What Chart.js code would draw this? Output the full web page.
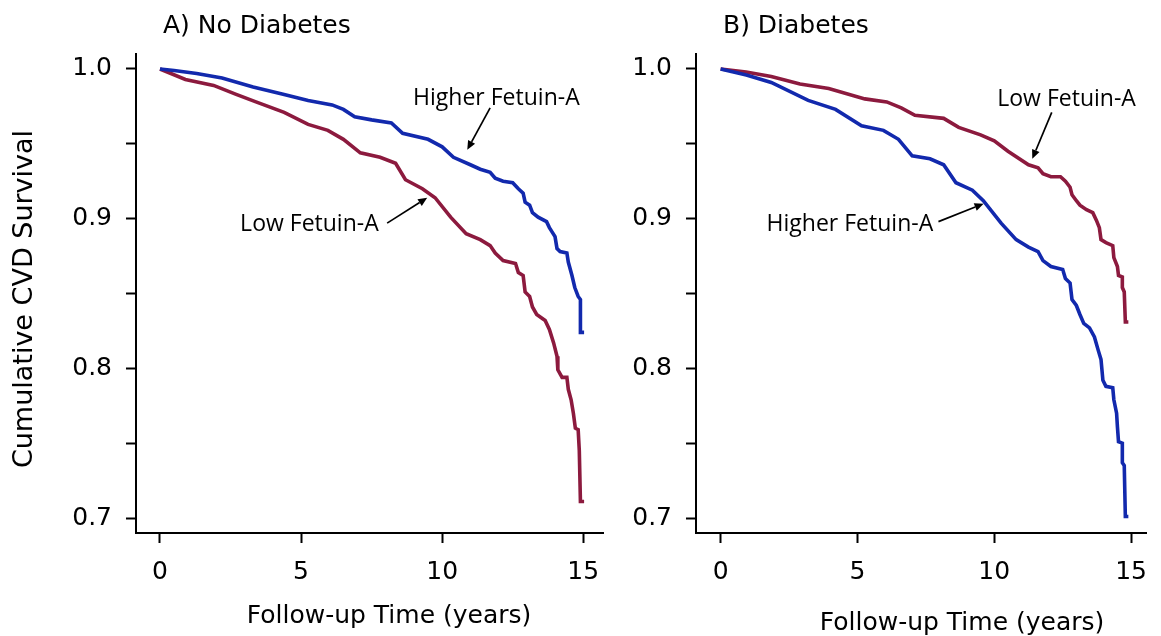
<!DOCTYPE html>
<html>
<head>
<meta charset="utf-8">
<title>Cumulative CVD Survival by Fetuin-A</title>
<script src="https://cdn.jsdelivr.net/npm/chart.js@4.4.1/dist/chart.umd.min.js"></script>
<style>
    body { margin: 0; background: #fff; }
    .wrap { position: relative; width: 1161px; height: 636px; }
    .wrap canvas { position: absolute; left: 0; top: 0; }
</style>
</head>
<body>
<div class="wrap">
    <canvas id="panelA" width="1161" height="636"></canvas>
    <canvas id="panelB" width="1161" height="636"></canvas>
</div>
<script>
// -------------------------------------------------------------------------- //
// DATA
// -------------------------------------------------------------------------- //

const xTickValues = [0, 5, 10, 15];
const xTickLabels = ['0', '5', '10', '15'];
const yTickValues = [0.7, 0.75, 0.8, 0.85, 0.9, 0.95, 1.0];
const yTickLabels = ['0.7', '', '0.8', '', '0.9', '', '1.0'];

// A) No Diabetes
const noDiabHigherTime = [0, 0.5, 1.3, 2.2, 3.3, 4.4, 5.25, 6.1, 6.5, 6.9, 7.5, 8.2, 8.6, 9.5, 10.0, 10.4, 11.0,
    11.35, 11.7, 11.88, 12.16, 12.5, 12.7, 12.87, 12.94, 13.1, 13.2, 13.4, 13.7, 13.8, 14.0, 14.07, 14.18,
    14.42, 14.47, 14.6, 14.7, 14.82, 14.9, 14.9, 15.03];
const noDiabHigherSurv = [1.0, 0.999, 0.997, 0.994, 0.988, 0.983, 0.979, 0.976, 0.973, 0.968, 0.966, 0.964, 0.957, 0.953, 0.948, 0.941, 0.936,
    0.933, 0.931, 0.927, 0.925, 0.924, 0.920, 0.917, 0.911, 0.909, 0.904, 0.901, 0.898, 0.894, 0.888, 0.880, 0.878,
    0.877, 0.871, 0.862, 0.854, 0.848, 0.846, 0.824, 0.824];

const noDiabLowTime = [0, 0.9, 1.9, 2.7, 3.4, 4.4, 5.25, 5.95, 6.5, 7.1, 7.8, 8.35, 8.7, 9.3, 9.75, 10.3, 10.85,
    11.35, 11.7, 11.88, 12.16, 12.6, 12.7, 12.87, 12.94, 13.1, 13.2, 13.35, 13.65, 13.8, 13.95, 14.07, 14.1,
    14.25, 14.42, 14.47, 14.57, 14.65, 14.72, 14.82, 14.86, 14.9, 15.03];
const noDiabLowSurv = [1.0, 0.993, 0.989, 0.983, 0.978, 0.971, 0.963, 0.959, 0.953, 0.944, 0.941, 0.937, 0.926, 0.920, 0.914, 0.901, 0.890,
    0.886, 0.882, 0.877, 0.872, 0.870, 0.864, 0.862, 0.851, 0.848, 0.841, 0.836, 0.832, 0.826, 0.817, 0.808, 0.799,
    0.794, 0.794, 0.786, 0.779, 0.770, 0.760, 0.759, 0.745, 0.711, 0.711];

// B) Diabetes
const diabLowTime = [0, 0.93, 1.85, 2.9, 3.95, 5.27, 6.07, 6.6, 7.1, 8.15, 8.7, 9.5, 10.0, 10.5, 11.25,
    11.6, 11.78, 12.07, 12.42, 12.6, 12.77, 12.84, 13.0, 13.13, 13.37, 13.6, 13.73, 13.84, 13.9, 14.08,
    14.33, 14.37, 14.5, 14.54, 14.68, 14.68, 14.75, 14.79, 14.9];
const diabLowSurv = [1.0, 0.998, 0.995, 0.990, 0.987, 0.980, 0.978, 0.974, 0.969, 0.967, 0.961, 0.956, 0.952, 0.945, 0.936,
    0.934, 0.930, 0.928, 0.928, 0.925, 0.921, 0.916, 0.912, 0.909, 0.906, 0.904, 0.899, 0.894, 0.886, 0.884,
    0.882, 0.874, 0.868, 0.862, 0.861, 0.854, 0.851, 0.831, 0.831];

const diabHigherTime = [0, 0.94, 1.85, 3.2, 4.2, 5.15, 5.95, 6.5, 7.0, 7.65, 8.15, 8.6, 9.2, 9.6, 10.25, 10.8,
    11.25, 11.6, 11.78, 12.07, 12.5, 12.6, 12.77, 12.84, 13.0, 13.13, 13.27, 13.48, 13.66, 13.8, 13.9,
    13.97, 14.08, 14.33, 14.37, 14.47, 14.5, 14.54, 14.68, 14.68, 14.75, 14.79, 14.9];
const diabHigherSurv = [1.0, 0.996, 0.991, 0.979, 0.973, 0.962, 0.959, 0.953, 0.942, 0.940, 0.936, 0.924, 0.919, 0.912, 0.897, 0.886,
    0.881, 0.878, 0.872, 0.868, 0.866, 0.860, 0.857, 0.846, 0.842, 0.836, 0.830, 0.827, 0.821, 0.812, 0.806,
    0.792, 0.788, 0.787, 0.779, 0.770, 0.761, 0.751, 0.750, 0.737, 0.735, 0.701, 0.701];

// -------------------------------------------------------------------------- //
// STYLE
// -------------------------------------------------------------------------- //

const BLUE = '#1229ad';
const RED = '#8c1a3e';
const INK = '#000';
const AXIS_FONT = 'DejaVu Sans';
const NOTE_FONT = '"Open Sans"';

const toPoints = (xs, ys) => xs.map((x, i) => ({ x: x, y: ys[i] }));

// Texto del panel: titulo, titulos de ejes y flechas de anotacion
const panelText = {
    id: 'panelText',
    afterDraw(chart, args, opts) {
        const ctx = chart.ctx;
        const xs = chart.scales.x;
        const ys = chart.scales.y;
        ctx.save();
        ctx.fillStyle = INK;
        ctx.strokeStyle = INK;

        // titulo del panel
        ctx.font = `25px ${AXIS_FONT}`;
        ctx.textAlign = 'left';
        ctx.textBaseline = 'alphabetic';
        ctx.fillText(opts.title, opts.titleX, opts.titleY);

        // titulo eje x
        ctx.textAlign = 'center';
        ctx.fillText(opts.xTitle, opts.xTitleX, opts.xTitleY);

        // titulo eje y (solo panel A)
        if (opts.yTitle) {
            ctx.save();
            ctx.font = `27px ${AXIS_FONT}`;
            ctx.translate(opts.yTitleX, opts.yTitleY);
            ctx.rotate(-Math.PI / 2);
            ctx.textAlign = 'center';
            ctx.fillText(opts.yTitle, 0, 0);
            ctx.restore();
        }

        // anotaciones con flecha
        ctx.font = `23px ${NOTE_FONT}`;
        ctx.textAlign = 'left';
        opts.notes.forEach(n => {
            ctx.fillText(n.text, xs.getPixelForValue(n.at[0]), ys.getPixelForValue(n.at[1]));
            const x0 = xs.getPixelForValue(n.from[0]);
            const y0 = ys.getPixelForValue(n.from[1]);
            const x1 = xs.getPixelForValue(n.to[0]);
            const y1 = ys.getPixelForValue(n.to[1]);
            const ang = Math.atan2(y1 - y0, x1 - x0);
            const len = 9;
            const wid = 4;
            const bx = x1 - len * Math.cos(ang);
            const by = y1 - len * Math.sin(ang);
            ctx.lineWidth = 1.7;
            ctx.beginPath();
            ctx.moveTo(x0, y0);
            ctx.lineTo(bx, by);
            ctx.stroke();
            ctx.beginPath();
            ctx.moveTo(x1, y1);
            ctx.lineTo(bx + wid * Math.sin(ang), by - wid * Math.cos(ang));
            ctx.lineTo(bx - wid * Math.sin(ang), by + wid * Math.cos(ang));
            ctx.closePath();
            ctx.fill();
        });
        ctx.restore();
    }
};

function makePanel(canvasId, panel) {
    const ctx = document.getElementById(canvasId).getContext('2d');
    return new Chart(ctx, {
        type: 'line',
        data: {
            datasets: panel.series.map(s => ({
                label: s.label,
                data: toPoints(s.time, s.surv),
                borderColor: s.color,
                backgroundColor: s.color,
                borderWidth: 3.6,
                pointRadius: 0,
                tension: 0,
                fill: false
            }))
        },
        options: {
            responsive: false,
            animation: false,
            events: [],
            layout: {
                padding: { left: panel.area.left - 136, right: 1161 - panel.area.right, top: 54, bottom: 0 }
            },
            plugins: {
                legend: { display: false },
                tooltip: { enabled: false },
                panelText: panel.text
            },
            scales: {
                x: {
                    type: 'linear',
                    min: panel.xMin,
                    max: panel.xMax,
                    afterBuildTicks: scale => { scale.ticks = xTickValues.map(v => ({ value: v })); },
                    afterFit: scale => { scale.height = 103; },
                    ticks: {
                        autoSkip: false,
                        maxRotation: 0,
                        padding: 14,
                        color: INK,
                        font: { family: AXIS_FONT, size: 25 },
                        callback: (value, index) => xTickLabels[index]
                    },
                    grid: { drawOnChartArea: false, drawTicks: true, tickLength: 10, tickWidth: 2, tickColor: INK },
                    border: { display: true, color: INK, width: 2 }
                },
                y: {
                    type: 'linear',
                    min: 0.69,
                    max: 1.01,
                    afterBuildTicks: scale => { scale.ticks = yTickValues.map(v => ({ value: v })); },
                    afterFit: scale => { scale.width = 136; },
                    ticks: {
                        autoSkip: false,
                        padding: 14,
                        color: INK,
                        font: { family: AXIS_FONT, size: 25 },
                        callback: (value, index) => yTickLabels[index]
                    },
                    grid: { drawOnChartArea: false, drawTicks: true, tickLength: 10, tickWidth: 2, tickColor: INK },
                    border: { display: true, color: INK, width: 2 }
                }
            }
        },
        plugins: [panelText]
    });
}

// -------------------------------------------------------------------------- //
// PANELES
// -------------------------------------------------------------------------- //

makePanel('panelA', {
    area: { left: 136, right: 603 },
    xMin: -0.85,
    xMax: 15.7,
    series: [
        { label: 'Higher Fetuin-A', time: noDiabHigherTime, surv: noDiabHigherSurv, color: BLUE },
        { label: 'Low Fetuin-A', time: noDiabLowTime, surv: noDiabLowSurv, color: RED }
    ],
    text: {
        title: 'A) No Diabetes', titleX: 163, titleY: 33,
        xTitle: 'Follow-up Time (years)', xTitleX: 389, xTitleY: 623,
        yTitle: 'Cumulative CVD Survival', yTitleX: 32, yTitleY: 299,
        notes: [
            { text: 'Higher Fetuin-A', at: [8.97, 0.976], from: [11.7, 0.974], to: [10.89, 0.946] },
            { text: 'Low Fetuin-A', at: [2.84, 0.892], from: [8.05, 0.897], to: [9.47, 0.914] }
        ]
    }
});

makePanel('panelB', {
    area: { left: 696, right: 1161 },
    xMin: -0.9,
    xMax: 15.55,
    series: [
        { label: 'Higher Fetuin-A', time: diabHigherTime, surv: diabHigherSurv, color: BLUE },
        { label: 'Low Fetuin-A', time: diabLowTime, surv: diabLowSurv, color: RED }
    ],
    text: {
        title: 'B) Diabetes', titleX: 723, titleY: 33,
        xTitle: 'Follow-up Time (years)', xTitleX: 962, xTitleY: 630,
        yTitle: null,
        notes: [
            { text: 'Low Fetuin-A', at: [10.11, 0.975], from: [12.1, 0.971], to: [11.39, 0.940] },
            { text: 'Higher Fetuin-A', at: [1.68, 0.892], from: [7.96, 0.898], to: [9.61, 0.910] }
        ]
    }
});
</script>
</body>
</html>
